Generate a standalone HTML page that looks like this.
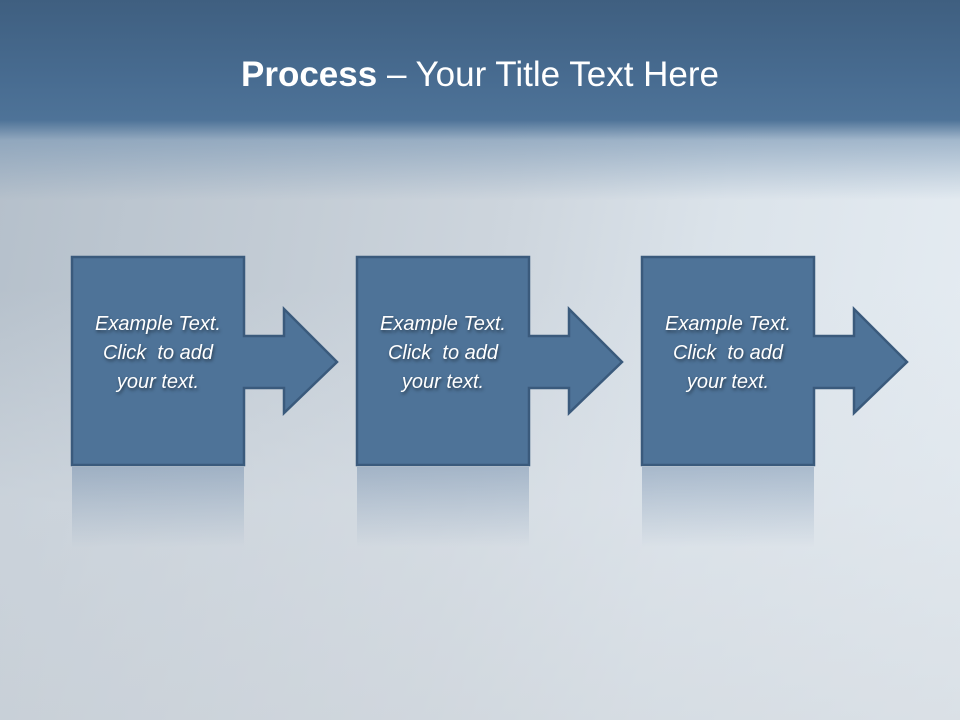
<!DOCTYPE html>
<html><head><meta charset="utf-8"><style>
html,body{margin:0;padding:0}
body{width:960px;height:720px;position:relative;overflow:hidden;font-family:"Liberation Sans",sans-serif;
background:linear-gradient(100deg,#b4bfca 0%,#c3ccd5 30%,#cdd5dd 50%,#dbe3ea 70%,#e6edf3 100%);}
.bg2{position:absolute;left:0;top:0;width:960px;height:720px;
background:linear-gradient(180deg,rgba(255,255,255,0) 40%,rgba(220,226,232,0.5) 70%,rgba(210,216,222,0.6) 100%);}
.title{position:absolute;left:0;top:0;width:960px;height:200px;
background:linear-gradient(180deg,#3f5f80 0%,#486c91 40%,#4e7398 60%,rgba(120,150,180,0.6) 70%,rgba(220,230,240,0) 100%);}
.t{position:absolute;left:0;top:55px;width:960px;text-align:center;color:#fff;font-size:35px;}
.lbl{position:absolute;width:172px;text-align:center;color:#fff;font-style:italic;font-size:20px;line-height:29px;text-shadow:1px 2px 3px rgba(0,0,0,0.5);top:310px}
</style></head><body>
<div class="bg2"></div>
<div class="title"></div>
<div class="t"><b>Process</b> – Your Title Text Here</div>
<svg width="960" height="720" style="position:absolute;left:0;top:0">
<defs>
<linearGradient id="rf" x1="0" y1="0" x2="0" y2="1">
<stop offset="0" stop-color="#6a87a8" stop-opacity="0.45"/>
<stop offset="1" stop-color="#6a87a8" stop-opacity="0"/>
</linearGradient>
<path id="sh" d="M72,257 H244 V336 H284 V309 L337,362 L284,413 V388 H244 V465 H72 Z"/>
</defs>
<g>
<rect x="72" y="467" width="172" height="80" fill="url(#rf)"/>
<rect x="357" y="467" width="172" height="80" fill="url(#rf)"/>
<rect x="642" y="467" width="172" height="80" fill="url(#rf)"/>
</g>
<g fill="#4e7398" stroke="#3a5a7c" stroke-width="2.5" stroke-linejoin="miter">
<use href="#sh"/>
<use href="#sh" transform="translate(285,0)"/>
<use href="#sh" transform="translate(570,0)"/>
</g>
</svg>
<div class="lbl" style="left:72px">Example Text.<br>Click&nbsp; to add<br>your text.</div>
<div class="lbl" style="left:357px">Example Text.<br>Click&nbsp; to add<br>your text.</div>
<div class="lbl" style="left:642px">Example Text.<br>Click&nbsp; to add<br>your text.</div>
</body></html>
